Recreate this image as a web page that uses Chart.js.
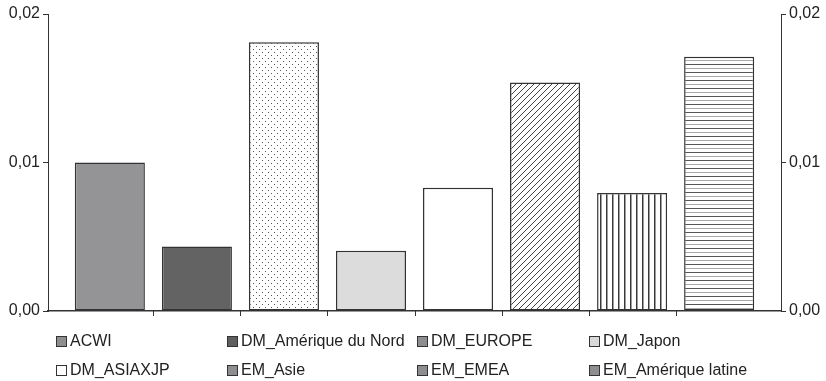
<!DOCTYPE html>
<html>
<head>
<meta charset="utf-8">
<script src="https://cdn.jsdelivr.net/npm/chart.js@4/dist/chart.umd.min.js"></script>
<style>
  body { margin: 0; background: #fff; }
  #wrap { position: relative; width: 826px; height: 381px; }
  #legend {
    position: absolute; left: 56px; top: 331px;
    display: grid; grid-template-columns: 171px 190px 172px 200px;
    row-gap: 9px;
    font: 16px "Liberation Sans", Arial, sans-serif; color: #222;
  }
  #legend div { display: flex; align-items: center; height: 20px; white-space: nowrap; }
  #legend span.box {
    width: 9px; height: 9px; border: 1px solid #333; margin-right: 3px; display: inline-block;
  }
</style>
</head>
<body>
<div id="wrap">
  <canvas id="chart" width="826" height="381"></canvas>
  <div id="legend"></div>
</div>
<script>
// series, one bar each
const seriesNames = ['ACWI', 'DM_Amérique du Nord', 'DM_EUROPE', 'DM_Japon',
                     'DM_ASIAXJP', 'EM_Asie', 'EM_EMEA', 'EM_Amérique latine'];
const seriesValues = [0.0100, 0.00435, 0.0181, 0.00406, 0.0083, 0.01538, 0.00794, 0.01712];
const yTicks = [0, 0.01, 0.02];

// pattern tiles for the hatched bars
function tile(w, h, draw) {
  const c = document.createElement('canvas');
  c.width = w; c.height = h;
  const g = c.getContext('2d');
  g.fillStyle = '#fff';
  g.fillRect(0, 0, w, h);
  draw(g);
  return document.getElementById('chart').getContext('2d').createPattern(c, 'repeat');
}
const dots = tile(6, 6, g => {
  g.fillStyle = '#555';
  g.fillRect(1, 1, 1, 1);
  g.fillRect(4, 4, 1, 1);
});
const diag = tile(6, 6, g => {
  g.strokeStyle = '#444'; g.lineWidth = 1;
  g.beginPath();
  g.moveTo(-1, 7); g.lineTo(7, -1);
  g.moveTo(-1, 1); g.lineTo(1, -1);
  g.moveTo(5, 7); g.lineTo(7, 5);
  g.stroke();
});
const vert = tile(6, 6, g => {
  g.fillStyle = '#3a3a3a';
  g.fillRect(0, 0, 1.5, 6);
});
const horiz = tile(8, 8, g => {
  g.fillStyle = '#555';
  g.fillRect(0, 0, 8, 1);
  g.fillStyle = '#aaa';
  g.fillRect(0, 4, 8, 1);
});

const fills = ['#949496', '#636363', dots, '#dcdcdd', '#ffffff', diag, vert, horiz];
const legendFills = ['#8e8e90', '#5f5f5f', '#8e8e90', '#d9d9da', '#ffffff', '#8e8e90', '#8e8e90', '#8e8e90'];

const fmt = v => v.toFixed(2).replace('.', ',');

// little tick marks on the x axis between neighbouring bars
const separators = {
  id: 'separators',
  afterDraw(chart) {
    const ctx = chart.ctx;
    const bottom = chart.chartArea.bottom;
    const xs = chart.data.datasets.map((d, i) => chart.getDatasetMeta(i).data[0].x);
    ctx.save();
    ctx.strokeStyle = '#333';
    ctx.lineWidth = 1;
    ctx.beginPath();
    for (let i = 0; i < xs.length - 1; i++) {
      const x = Math.round((xs[i] + xs[i + 1]) / 2) + 0.5;
      ctx.moveTo(x, bottom);
      ctx.lineTo(x, bottom + 5);
    }
    ctx.stroke();
    ctx.restore();
  }
};

const axisY = (position, width) => ({
  type: 'linear', position, min: 0, max: 0.02,
  afterBuildTicks: s => { s.ticks = yTicks.map(v => ({ value: v })); },
  afterFit: s => { s.width = width; },
  border: { color: '#333', width: 1 },
  grid: { drawOnChartArea: false, tickLength: 5, color: '#333', tickColor: '#333' },
  ticks: {
    color: '#222', padding: 3,
    font: { family: 'Liberation Sans', size: 16 },
    callback: v => fmt(v)
  }
});

const chart = new Chart(document.getElementById('chart'), {
  type: 'bar',
  data: {
    labels: [''],
    datasets: seriesNames.map((name, i) => ({
      label: name,
      data: [seriesValues[i]],
      backgroundColor: fills[i],
      borderColor: '#333',
      borderWidth: 1.5,
      borderSkipped: false,
      barPercentage: 0.805,
      categoryPercentage: 0.95,
      yAxisID: 'y'
    }))
  },
  options: {
    responsive: false,
    animation: false,
    layout: { padding: { top: 14, bottom: 62, left: 0, right: 0 } },
    plugins: { legend: { display: false }, tooltip: { enabled: false } },
    scales: {
      x: {
        afterFit: s => { s.height = 8; },
        border: { color: '#333', width: 1.5 },
        grid: { display: false },
        ticks: { display: false }
      },
      y: axisY('left', 48),
      y2: axisY('right', 45)
    }
  },
  plugins: [separators]
});

// legend in four columns, built from the datasets
const legend = document.getElementById('legend');
chart.data.datasets.forEach((d, i) => {
  const item = document.createElement('div');
  item.innerHTML = `<span class="box" style="background:${legendFills[i]}"></span>${d.label}`;
  legend.appendChild(item);
});
</script>
</body>
</html>
